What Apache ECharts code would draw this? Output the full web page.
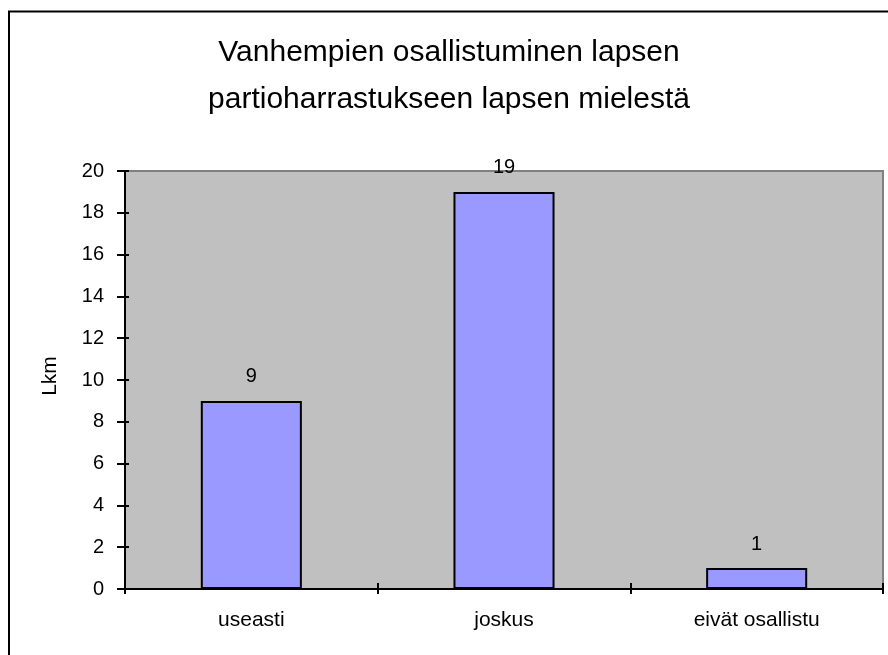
<!DOCTYPE html>
<html>
<head>
<meta charset="utf-8">
<script src="https://cdn.jsdelivr.net/npm/echarts@6/dist/echarts.min.js"></script>
<style>
  html, body { margin: 0; padding: 0; background: #fff; }
  #chart { width: 888px; height: 655px; }
</style>
</head>
<body>
<div id="chart"></div>
<script>
const titleLines = ['Vanhempien osallistuminen lapsen', 'partioharrastukseen lapsen mielestä']
const categories = ['useasti', 'joskus', 'eivät osallistu']
const counts = [9, 19, 1]
const yName = 'Lkm'

const font = 'Liberation Sans, Arial, sans-serif'
const chart = echarts.init(document.getElementById('chart'))

chart.setOption({
  animation: false,
  backgroundColor: '#ffffff',
  textStyle: { fontFamily: font },
  title: {
    text: titleLines.join('\n'),
    left: 444,
    textAlign: 'center',
    top: 24,
    textStyle: { fontSize: 30, fontWeight: 'normal', color: '#000', lineHeight: 47, fontFamily: font }
  },
  graphic: [
    {
      type: 'rect',
      shape: { x: 9, y: 11.5, width: 1000, height: 1000 },
      style: { fill: 'none', stroke: '#000', lineWidth: 2 },
      silent: true
    },
    {
      type: 'text',
      rotation: Math.PI / 2,
      x: 50, y: 376,
      style: { text: yName, font: '21px ' + font, fill: '#000', align: 'center', verticalAlign: 'middle' },
      silent: true
    }
  ],
  grid: {
    left: 125, right: 5, top: 171, bottom: 66,
    show: true,
    backgroundColor: '#c0c0c0',
    borderColor: '#808080',
    borderWidth: 2
  },
  xAxis: [
    {
      type: 'category',
      data: categories,
      boundaryGap: true,
      axisLine: { lineStyle: { color: '#000', width: 2 } },
      axisTick: { show: true, length: 5, lineStyle: { color: '#000', width: 2 } },
      axisLabel: { color: '#000', fontSize: 21, margin: 21, fontFamily: font },
      splitLine: { show: false }
    },
    {
      type: 'category',
      data: categories,
      position: 'bottom',
      boundaryGap: true,
      axisLine: { show: false },
      axisTick: { show: true, inside: true, length: 6, lineStyle: { color: '#000', width: 2 } },
      axisLabel: { show: false },
      splitLine: { show: false }
    }
  ],
  yAxis: [
    {
      type: 'value',
      min: 0, max: 20, interval: 2,
      axisLine: { show: true, lineStyle: { color: '#000', width: 2 } },
      axisTick: { show: true, length: 8, lineStyle: { color: '#000', width: 2 } },
      axisLabel: { color: '#000', fontSize: 20, margin: 21, fontFamily: font },
      splitLine: { show: false }
    },
    {
      type: 'value',
      position: 'left',
      min: 0, max: 20, interval: 2,
      axisLine: { show: false },
      axisTick: { show: true, inside: true, length: 4, lineStyle: { color: '#000', width: 2 } },
      axisLabel: { show: false },
      splitLine: { show: false }
    }
  ],
  series: [
    {
      type: 'bar',
      data: counts,
      barWidth: '40%',
      itemStyle: { color: '#9999ff', borderColor: '#000', borderWidth: 2 },
      label: {
        show: true,
        position: 'top',
        distance: 14,
        color: '#000',
        fontSize: 20,
        fontFamily: font
      }
    }
  ]
})
</script>
</body>
</html>
